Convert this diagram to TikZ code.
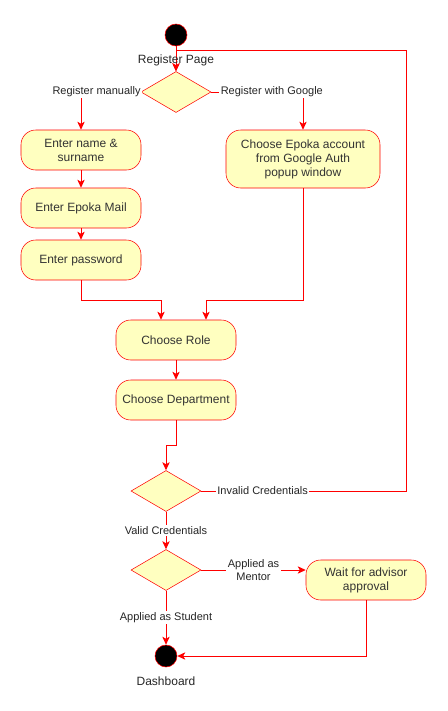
\documentclass[tikz,border=0pt]{standalone}
\usepackage{fontspec}
\setmainfont{Liberation Sans}
\usetikzlibrary{arrows.meta,shapes.geometric}
\definecolor{actfill}{HTML}{FFFFC0}
\definecolor{actline}{HTML}{FF0000}
\tikzset{
  act/.style={draw=actline, fill=actfill, rounded corners=11pt, minimum width=90pt,
    minimum height=30pt, align=center, inner sep=1pt, text=black!80,
    font=\fontsize{9}{10.5}\selectfont},
  choice/.style={draw=actline, fill=actfill, diamond, minimum width=52.5pt,
    minimum height=30.75pt, inner sep=0pt},
  dot/.style={draw=actline, fill=black, circle, minimum size=16.5pt, inner sep=0pt},
  flow/.style={draw=actline, line width=0.75pt, -{Stealth[length=6pt,width=5.5pt,inset=1.5pt]}},
  lbl/.style={fill=white, inner sep=1pt, align=center, text=black!85,
    font=\fontsize{8.25}{9.5}\selectfont},
  captext/.style={text=black!85, font=\fontsize{9}{10.5}\selectfont}
}
\begin{document}
\begin{tikzpicture}[x=0.75pt, y=-0.75pt]
  \useasboundingbox (0,0) rectangle (447,711);

  \node[dot] (start) at (176,35) {};
  \node[choice] (d1) at (176,92) {};
  \node[act] (name) at (81,150) {Enter name \&\\surname};
  \node[act] (mail) at (81,208) {Enter Epoka Mail};
  \node[act] (pass) at (81,260) {Enter password};
  \node[act, minimum width=115.5pt, minimum height=43.5pt] (google) at (303,159)
    {Choose Epoka account\\from Google Auth\\popup window};
  \node[act] (role) at (176,340) {Choose Role};
  \node[act] (dept) at (176,400) {Choose Department};
  \node[choice] (d2) at (166,491) {};
  \node[choice] (d3) at (166,570) {};
  \node[act] (wait) at (366,580) {Wait for advisor\\approval};
  \node[dot] (end) at (166,656) {};
  \coordinate (loop) at (406,50);

  \draw[flow] (start) -- (d1);
  \draw[flow] (loop) -| (d1.north);
  \node[captext] (startcap) at (176,60) {Register Page};

  \draw[flow] (d1.west) -| node[lbl, pos=0.37] {Register manually} (name.north);
  \draw[flow] (d1.east) -| node[lbl, pos=0.33] {Register with Google} (google.north);
  \draw[flow] (name) -- (mail);
  \draw[flow] (mail) -- (pass);
  \draw[flow] (pass.south) -- ++(0,20) -| ([shift={(-15,0)}]role.north);
  \draw[flow] (google.south) -- ++(0,112) -| ([shift={(30,0)}]role.north);
  \draw[flow] (role) -- (dept);
  \draw[flow] (dept.south) -- ++(0,25) -| (d2.north);

  \draw[draw=actline, line width=0.75pt] (d2.east) -| node[lbl, pos=0.15] {Invalid Credentials} (loop);
  \draw[flow] (d2.south) -- node[lbl] {Valid Credentials} (d3.north);
  \draw[flow] (d3.east) -- node[lbl] {Applied as\\Mentor} (d3.east -| wait.west);
  \draw[flow] (d3.south) -- node[lbl] {Applied as Student} (end.north);
  \draw[flow] (wait.south) |- (end.east);
  \node[captext] (endcap) at (166,681) {Dashboard};
\end{tikzpicture}
\end{document}
